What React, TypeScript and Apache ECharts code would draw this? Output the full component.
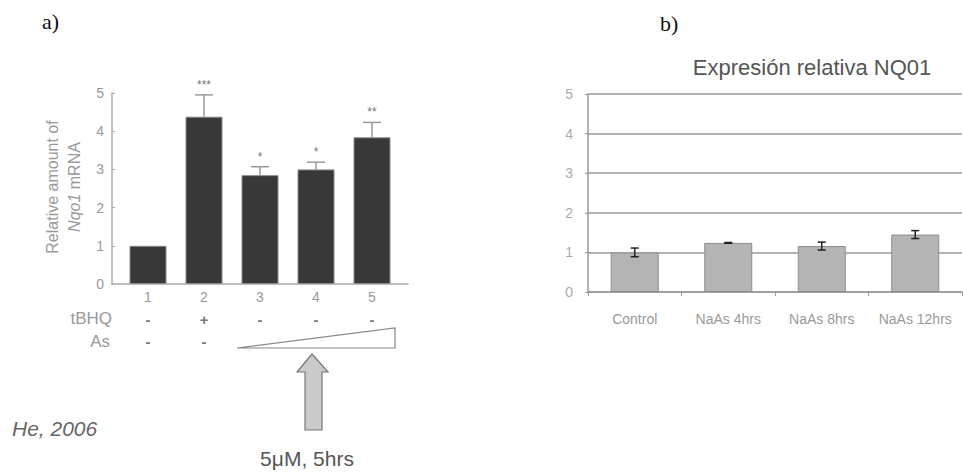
import React, { useEffect, useRef } from "react";
import * as echarts from "echarts";

// ---- Panel a) data ----
const lanes = ["1", "2", "3", "4", "5"];
const nqo1Values = [1.0, 4.38, 2.85, 3.0, 3.84];
const nqo1Errors = [0, 0.57, 0.22, 0.19, 0.39];
const significance = ["", "***", "*", "*", "**"];
const tbhqRow = ["-", "+", "-", "-", "-"];
const asRow = ["-", "-", "", "", ""];

// ---- Panel b) data ----
const treatments = ["Control", "NaAs 4hrs", "NaAs 8hrs", "NaAs 12hrs"];
const nq01Values = [1.0, 1.24, 1.16, 1.45];
const nq01Errors = [0.11, 0.01, 0.1, 0.1];

const SANS = "'Liberation Sans', Arial, sans-serif";
const SERIF = "'Liberation Serif', 'Times New Roman', serif";

export default function App() {
  const ref = useRef<HTMLDivElement>(null);

  useEffect(() => {
    if (!ref.current) return;
    const chart = echarts.init(ref.current, undefined, { renderer: "svg" });

    const option: any = {
      animation: false,
      backgroundColor: "#ffffff",
      title: {
        text: "Expresión relativa NQ01",
        left: 807,
        top: 51,
        textAlign: "center",
        textStyle: { fontFamily: SANS, fontSize: 22, fontWeight: "normal", color: "#555" },
      },
      grid: [
        { left: 120, top: 93, width: 280, height: 191 },
        { left: 112, top: 93, width: 296, height: 191 },
        { left: 588, top: 94, width: 374, height: 198 },
      ],
      xAxis: [
        {
          type: "category",
          gridIndex: 0,
          data: lanes,
          axisLine: { show: false },
          axisTick: { show: false },
          axisLabel: {
            margin: 2,
            interval: 0,
            formatter: (v: string, i: number) =>
              `{n|${v}}\n{s|${tbhqRow[i] || "\u00a0"}}\n{s|${asRow[i] || "\u00a0"}}`,
            rich: {
              n: { fontFamily: SANS, fontSize: 14, color: "#999", lineHeight: 22 },
              s: { fontFamily: SANS, fontSize: 15, fontWeight: "bold", color: "#777", lineHeight: 22 },
            },
          },
        },
        {
          type: "category",
          gridIndex: 1,
          data: lanes,
          axisLine: { show: true, lineStyle: { color: "#aaa", width: 1.5 } },
          axisTick: { show: false },
          axisLabel: { show: false },
        },
        {
          type: "category",
          gridIndex: 2,
          data: treatments,
          axisLine: { show: true, lineStyle: { color: "#999", width: 1.5 } },
          axisTick: { show: true, length: 4, lineStyle: { color: "#999" } },
          axisLabel: { interval: 0, hideOverlap: false, margin: 20, fontFamily: SANS, fontSize: 14, color: "#999" },
        },
      ],
      yAxis: [
        {
          type: "value",
          gridIndex: 0,
          min: 0,
          max: 5,
          interval: 1,
          offset: 8,
          axisLine: { show: true, lineStyle: { color: "#aaa", width: 1.5 } },
          axisTick: { show: true, inside: true, length: 3, lineStyle: { color: "#aaa" } },
          axisLabel: { margin: 8, fontFamily: SANS, fontSize: 14, color: "#999" },
          splitLine: { show: false },
        },
        {
          type: "value",
          gridIndex: 1,
          min: 0,
          max: 5,
          show: false,
        },
        {
          type: "value",
          gridIndex: 2,
          min: 0,
          max: 5,
          interval: 1,
          axisLine: { show: true, lineStyle: { color: "#999", width: 1.5 } },
          axisTick: { show: true, length: 3, lineStyle: { color: "#999" } },
          axisLabel: { margin: 15, fontFamily: SANS, fontSize: 14, color: "#aaa" },
          splitLine: { show: true, lineStyle: { color: "#999", width: 1.5 } },
        },
      ],
      series: [
        {
          type: "bar",
          xAxisIndex: 0,
          yAxisIndex: 0,
          data: nqo1Values,
          barWidth: 37,
          itemStyle: { color: "#383838", borderColor: "#8a8a8a", borderWidth: 1 },
        },
        {
          type: "custom",
          xAxisIndex: 0,
          yAxisIndex: 0,
          z: 5,
          data: lanes.map((_, i) => [i, nqo1Values[i], nqo1Errors[i]]),
          renderItem: (params: any, api: any) => {
            const i = api.value(0);
            const v = api.value(1);
            const e = api.value(2);
            const star = significance[params.dataIndex];
            if (!e && !star) return null;
            const base = api.coord([i, v]);
            const top = api.coord([i, v + e]);
            const children: any[] = [];
            if (e) {
              children.push(
                { type: "line", shape: { x1: base[0], y1: base[1], x2: top[0], y2: top[1] }, style: { stroke: "#999", lineWidth: 1.5 } },
                { type: "line", shape: { x1: top[0] - 9, y1: top[1], x2: top[0] + 9, y2: top[1] }, style: { stroke: "#999", lineWidth: 1.5 } }
              );
            }
            if (star) {
              children.push({
                type: "text",
                x: top[0],
                y: top[1] - 10,
                style: { text: star, fontFamily: SANS, fontSize: 12, fill: "#777", align: "center", verticalAlign: "middle", textAlign: "center", textVerticalAlign: "middle" },
              });
            }
            return { type: "group", children };
          },
        },
        {
          type: "bar",
          xAxisIndex: 2,
          yAxisIndex: 2,
          data: nq01Values,
          barWidth: 48,
          itemStyle: { color: "#b4b4b4", borderColor: "#8c8c8c", borderWidth: 1 },
        },
        {
          type: "custom",
          xAxisIndex: 2,
          yAxisIndex: 2,
          z: 5,
          data: treatments.map((_, i) => [i, nq01Values[i], nq01Errors[i]]),
          renderItem: (_params: any, api: any) => {
            const i = api.value(0);
            const v = api.value(1);
            const e = api.value(2);
            const lo = api.coord([i, v - e]);
            const hi = api.coord([i, v + e]);
            const st = { stroke: "#222", lineWidth: 1.5 };
            return {
              type: "group",
              children: [
                { type: "line", shape: { x1: lo[0], y1: lo[1], x2: hi[0], y2: hi[1] }, style: st },
                { type: "line", shape: { x1: hi[0] - 4, y1: hi[1], x2: hi[0] + 4, y2: hi[1] }, style: st },
                { type: "line", shape: { x1: lo[0] - 4, y1: lo[1], x2: lo[0] + 4, y2: lo[1] }, style: st },
              ],
            };
          },
        },
      ],
      graphic: [
        {
          type: "text",
          left: 42,
          top: 10,
          style: { text: "a)", fontFamily: SERIF, fontSize: 22, fill: "#111" },
        },
        {
          type: "text",
          left: 660,
          top: 12,
          style: { text: "b)", fontFamily: SERIF, fontSize: 22, fill: "#111" },
        },
        {
          type: "text",
          x: 52,
          y: 187,
          rotation: Math.PI / 2,
          style: { text: "Relative amount of", fontFamily: SANS, fontSize: 16, fill: "#999", align: "center", verticalAlign: "middle", textAlign: "center", textVerticalAlign: "middle" },
        },
        {
          type: "text",
          x: 74,
          y: 187,
          rotation: Math.PI / 2,
          style: {
            text: "{i|Nqo1} mRNA",
            fontFamily: SANS,
            fontSize: 16,
            fill: "#999",
            align: "center",
            verticalAlign: "middle",
            textAlign: "center",
            textVerticalAlign: "middle",
            rich: { i: { fontFamily: SANS, fontSize: 16, fontStyle: "italic", fill: "#999" } },
          },
        },
        {
          type: "text",
          x: 112,
          y: 318,
          style: { text: "tBHQ", fontFamily: SANS, fontSize: 17, fill: "#999", align: "right", verticalAlign: "middle", textAlign: "right", textVerticalAlign: "middle" },
        },
        {
          type: "text",
          x: 110,
          y: 341,
          style: { text: "As", fontFamily: SANS, fontSize: 17, fill: "#999", align: "right", verticalAlign: "middle", textAlign: "right", textVerticalAlign: "middle" },
        },
        {
          type: "polygon",
          shape: { points: [[237, 348], [395, 328], [395, 348]] },
          style: { fill: "#fff", stroke: "#888", lineWidth: 1.2 },
        },
        {
          type: "polygon",
          shape: {
            points: [[312, 354], [328, 372], [322, 372], [322, 430], [305, 430], [305, 372], [297, 372]],
          },
          style: { fill: "#cacaca", stroke: "#777", lineWidth: 1.2 },
        },
        {
          type: "text",
          x: 307,
          y: 458,
          style: { text: "5μM, 5hrs", fontFamily: SANS, fontSize: 21, fill: "#555", align: "center", verticalAlign: "middle", textAlign: "center", textVerticalAlign: "middle" },
        },
        {
          type: "text",
          x: 12,
          y: 428,
          style: { text: "He, 2006", fontFamily: SANS, fontSize: 21, fontStyle: "italic", fill: "#666", align: "left", verticalAlign: "middle", textAlign: "left", textVerticalAlign: "middle" },
        },
      ],
    };

    chart.setOption(option);
    return () => chart.dispose();
  }, []);

  return (
    <div
      ref={ref}
      style={{ position: "fixed", left: 0, top: 0, width: 963, height: 475, background: "#fff" }}
    />
  );
}
